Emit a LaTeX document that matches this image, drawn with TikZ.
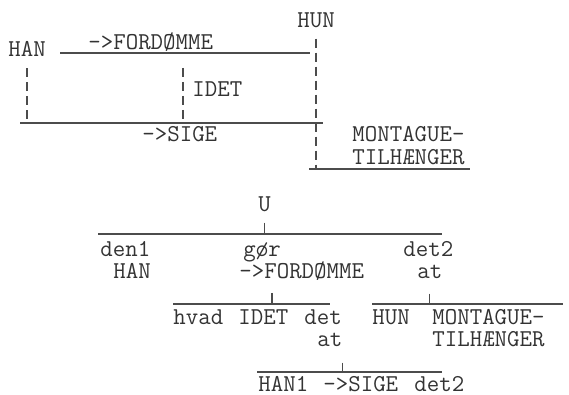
\documentclass[tikz,border=0pt]{standalone}
\usepackage{fontspec}
\begin{document}
\begin{tikzpicture}[
  x=0.5pt, y=-0.5pt,
  %% Typewriter words, placed by their baseline
  word/.style={anchor=base west, inner sep=0pt, text=black!80,
               font=\ttfamily\fontsize{12.1}{14}\selectfont},
  %% Underscore rules
  rule/.style={draw=black!70, line width=0.7pt},
  %% Typed "|" strokes (short, solid)
  bar/.style={draw=black!70, line width=0.6pt},
  %% Column of "|" strokes (dashed)
  dbar/.style={bar, dash pattern=on 4.5pt off 2.5pt}
]
\useasboundingbox (0,0) rectangle (569,395);

%% ── Upper figure: box of rules ───────────────────────────────────────────
\node[word] (han)  at (8,57)   {HAN};
\node[word] (ford) at (88,50)  {->FORDØMME};
\node[word] (hun)  at (297,28) {HUN};
\node[word] (idet) at (192,97) {IDET};
\node[word] (sige) at (142,142) {->SIGE};
\node[word] (mont) at (352,142) {MONTAGUE-};
\node[word] (tilh) at (352,165) {TILHÆNGER};

\coordinate (f-l) at (60,53);   \coordinate (f-r) at (310,53);
\coordinate (s-l) at (20,123);  \coordinate (s-r) at (323,123);
\coordinate (m-l) at (309,169); \coordinate (m-r) at (470,169);
\coordinate (i-t) at (183,68);

\draw[rule] (f-l) -- (f-r);
\draw[rule] (s-l) -- (s-r);
\draw[rule] (m-l) -- (m-r);

%% verticals, typed as "|" columns
\draw[dbar] ([yshift=-5.5pt]han.south) -- ([yshift=1.5pt]han.south |- s-l);
\draw[dbar] (i-t) -- ([yshift=1.5pt]i-t |- s-l);
\draw[dbar] ([yshift=-5pt]hun.south) -- (hun.south |- m-l);

%% ── Lower figure: tree ───────────────────────────────────────────────────
\node[word] (u) at (258,212) {U};
\coordinate (u-l) at (98,234); \coordinate (u-r) at (442,234);
\draw[rule] (u-l) -- (u-r);
\draw[bar] ([yshift=-5pt]u.south) -- (u.south |- u-l);

\node[word] (den)    at (100,257) {den1};
\node[word] (han-b)  at (113,279) {HAN};
\node[word] (gor)    at (243,257) {gør};
\node[word] (ford-b) at (239,279) {->FORDØMME};
\node[word] (det-a)  at (403,257) {det2};
\node[word] (at-a)   at (417,279) {at};

%% under ->FORDØMME
\coordinate (g-l) at (173,304); \coordinate (g-r) at (330,304);
\coordinate (g-p) at (272,293);
\draw[rule] (g-l) -- (g-r);
\draw[bar] (g-p) -- (g-p |- g-l);

%% under det2 at
\coordinate (a-l) at (372,304); \coordinate (a-r) at (563,304);
\draw[rule] (a-l) -- (a-r);
\draw[bar] ([yshift=-7pt]at-a.south) -- (at-a.south |- a-l);

\node[word] (hvad)   at (173,325) {hvad};
\node[word] (idet-b) at (238,325) {IDET};
\node[word] (det-b)  at (304,325) {det};
\node[word] (at-b)   at (317,347) {at};
\node[word] (hun-b)  at (372,325) {HUN};
\node[word] (mont-b) at (432,325) {MONTAGUE-};
\node[word] (tilh-b) at (432,347) {TILHÆNGER};

%% under det at
\coordinate (h-l) at (257,372); \coordinate (h-r) at (442,372);
\draw[rule] (h-l) -- (h-r);
\draw[bar] ([yshift=-7.5pt]at-b.south east) -- (at-b.south east |- h-l);

\node[word] (han1)   at (258,392) {HAN1};
\node[word] (sige-b) at (323,392) {->SIGE};
\node[word] (det-c)  at (414,392) {det2};

\end{tikzpicture}
\end{document}
